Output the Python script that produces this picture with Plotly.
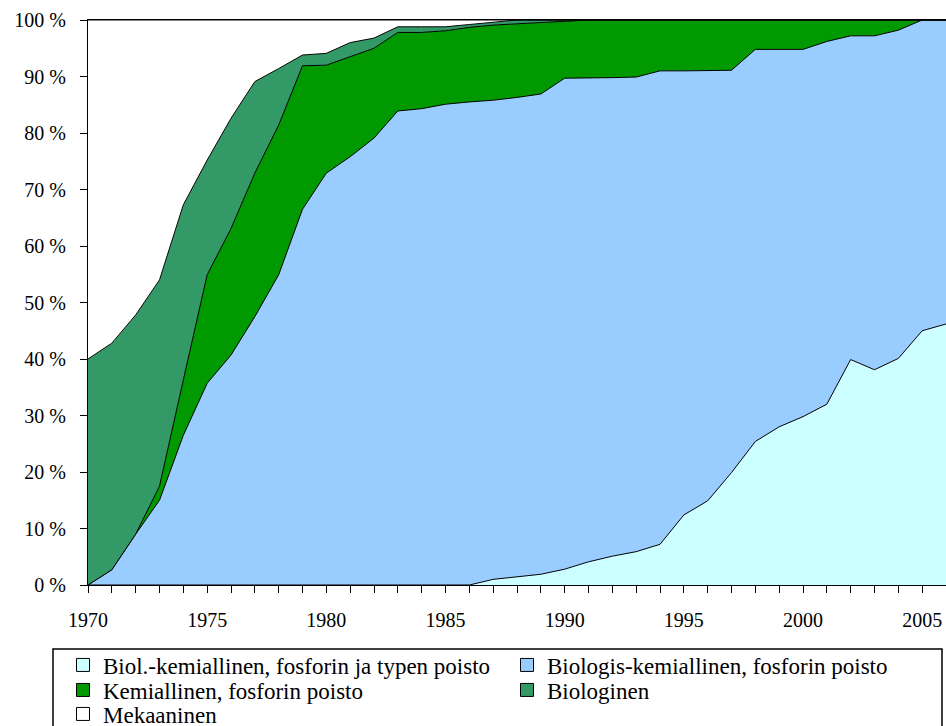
import plotly.graph_objects as go

years = list(range(1970, 2007))

# Individual shares (%) per year
bio_kem_pn = [0, 0, 0, 0, 0, 0, 0, 0, 0, 0, 0, 0, 0, 0, 0, 0, 0,
              1.0, 1.5, 1.9, 2.8, 4.1, 5.1, 5.9, 7.2, 12.4, 14.9, 19.9, 25.4, 28.0,
              29.8, 32.0, 39.9, 38.1, 40.1, 45.0, 46.2]
bio_kem_p = [0, 2.7, 9.0, 15.0, 26.5, 35.7, 40.7, 47.5, 54.9, 66.5,
             72.9, 75.8, 79.1, 83.9, 84.3, 85.1, 85.5, 84.8, 84.8, 85.0,
             86.9, 85.6, 84.7, 84.0, 83.8, 78.6, 76.1, 71.2, 69.4, 66.8,
             65.0, 64.2, 57.3, 59.1, 58.1, 55.0, 53.8]
kemiallinen = [0, 0, 0, 2.5, 9.8, 19.2, 22.4, 25.4, 26.5, 25.4,
               19.1, 17.7, 15.9, 13.9, 13.5, 13.0, 13.2, 13.3, 13.0, 12.6,
               10.0, 10.3, 10.2, 10.1, 9.0, 9.0, 9.0, 8.9, 5.2, 5.2,
               5.2, 3.8, 2.8, 2.8, 1.8, 0, 0]
biologinen = [40.0, 40.1, 38.8, 36.5, 31.0, 20.3, 19.5, 16.2, 10.0, 1.9,
              2.1, 2.5, 1.8, 1.0, 1.0, 0.7, 0.5, 0.5, 0.7, 0.5,
              0.3, 0, 0, 0, 0, 0, 0, 0, 0, 0,
              0, 0, 0, 0, 0, 0, 0]
mekaaninen = [60.0, 57.2, 52.2, 46.0, 32.7, 24.8, 17.4, 10.9, 8.6, 6.2,
              5.9, 4.0, 3.2, 1.2, 1.2, 1.2, 0.8, 0.4, 0, 0,
              0, 0, 0, 0, 0, 0, 0, 0, 0, 0,
              0, 0, 0, 0, 0, 0, 0]

series_names = [
    "Biol.-kemiallinen, fosforin ja typen poisto",
    "Biologis-kemiallinen, fosforin poisto",
    "Kemiallinen, fosforin poisto",
    "Biologinen",
    "Mekaaninen",
]
series_values = [bio_kem_pn, bio_kem_p, kemiallinen, biologinen, mekaaninen]
colors = ["#CCFFFF", "#99CCFF", "#009900", "#339966", "#FFFFFF"]
legend_rows = ["legend", "legend", "legend2", "legend2", "legend3"]

y_tickvals = list(range(0, 101, 10))
y_ticktext = [f"{v} %" for v in y_tickvals]
x_tickvals = list(range(1970, 2006, 5))
x_ticktext = [str(v) for v in x_tickvals]

FONT = "Liberation Serif"

fig = go.Figure()
for name, vals, col in zip(series_names, series_values, colors):
    fig.add_trace(go.Scatter(
        x=years, y=vals, name=name, stackgroup="one", mode="lines",
        line=dict(color="black", width=1), fillcolor=col,
        showlegend=False, hoverinfo="skip",
    ))
# legend proxies (square swatches)
for name, col, lg in zip(series_names, colors, legend_rows):
    fig.add_trace(go.Scatter(
        x=[None], y=[None], name=name, mode="markers",
        marker=dict(symbol="square", size=13, color=col,
                    line=dict(color="black", width=1)),
        showlegend=True, legend=lg,
    ))

W, H = 946, 726
ml, mr, mt, mb = 88, 0, 20, 141
pw, ph = W - ml - mr, H - mt - mb

def px_x(p):
    return (p - ml) / pw

def px_y(p):
    return (H - mb - p) / ph

fig.add_shape(type="rect", xref="paper", yref="paper",
              x0=px_x(53), x1=px_x(942), y0=px_y(740), y1=px_y(649),
              line=dict(color="black", width=1.5), fillcolor="rgba(0,0,0,0)")

def legend_row(ypx):
    return dict(
        orientation="h", x=px_x(63), xanchor="left", y=px_y(ypx), yanchor="middle",
        entrywidth=399, entrywidthmode="pixels", traceorder="normal",
        font=dict(family=FONT, size=23, color="black"),
        bgcolor="rgba(0,0,0,0)", borderwidth=0, itemclick=False,
    )

fig.update_layout(
    width=W, height=H,
    margin=dict(l=ml, r=mr, t=mt, b=mb, autoexpand=False),
    paper_bgcolor="white", plot_bgcolor="white",
    font=dict(family=FONT, size=20, color="black"),
    showlegend=True,
    legend=legend_row(665),
    legend2=legend_row(690),
    legend3=legend_row(714),
    xaxis=dict(
        range=[1970, 2006], showgrid=False, zeroline=False,
        showline=True, linecolor="black", linewidth=1, mirror=True,
        tickvals=x_tickvals, ticktext=x_ticktext,
        ticks="outside", ticklen=7, tickcolor="black", tickwidth=1,
        minor=dict(dtick=1, tick0=1970, ticks="outside", ticklen=7,
                   tickcolor="black", tickwidth=1, showgrid=False),
        tickfont=dict(family=FONT, size=20, color="black"),
        ticklabelstandoff=10,
    ),
    yaxis=dict(
        range=[0, 100], showgrid=False, zeroline=False,
        showline=True, linecolor="black", linewidth=1,
        tickvals=y_tickvals, ticktext=y_ticktext,
        ticks="outside", ticklen=7, tickcolor="black", tickwidth=1,
        tickfont=dict(family=FONT, size=20, color="black"),
        ticklabelstandoff=10,
    ),
)

fig.write_html("out.html")
